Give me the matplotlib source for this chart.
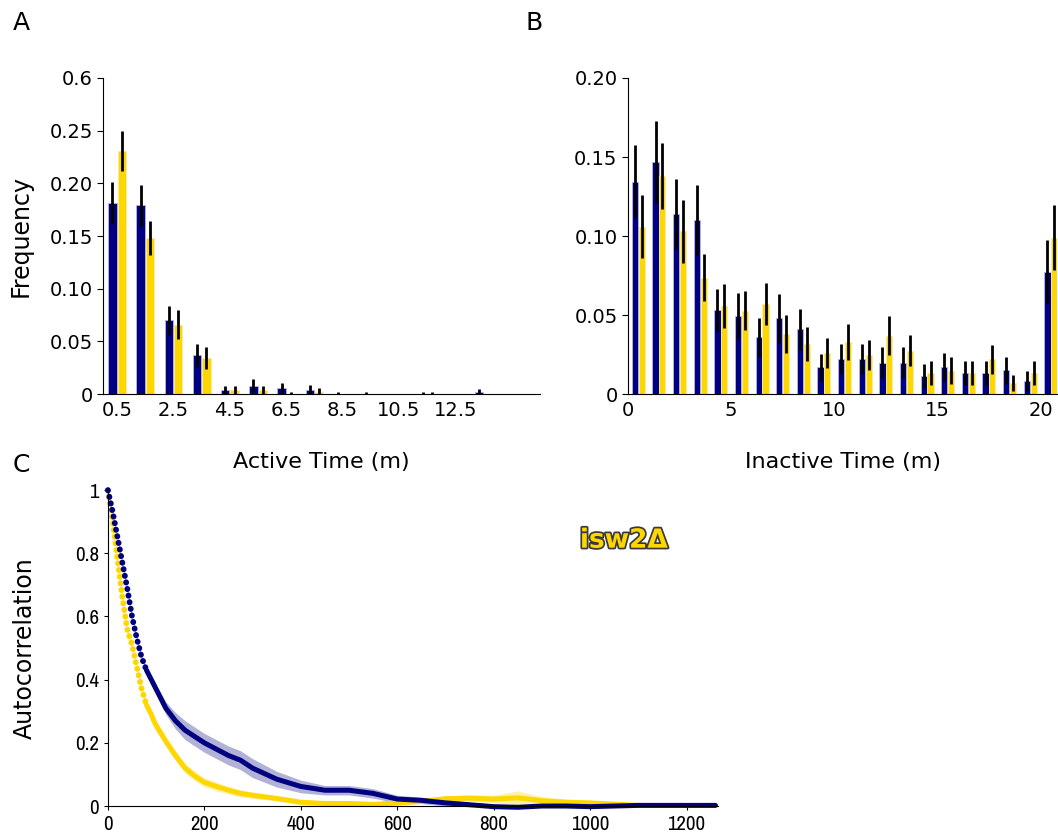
import numpy as np
import matplotlib
matplotlib.use('Agg')
import matplotlib.pyplot as plt
import matplotlib.patheffects as pe
from matplotlib import font_manager

plt.rcParams['font.family'] = 'DejaVu Sans'

NAVY = '#000080'
GOLD = '#FFD700'

# Panel A - active time histogram
a_bins = [0.5, 1.5, 2.5, 3.5, 4.5, 5.5, 6.5, 7.5, 8.5, 9.5, 10.5, 11.5, 12.5, 13.5]
a_blue = [0.181, 0.179, 0.070, 0.037, 0.004, 0.008, 0.006, 0.004, 0.0, 0.0, 0.0, 0.0, 0.0, 0.002]
a_blue_err = [0.020, 0.019, 0.014, 0.011, 0.004, 0.006, 0.005, 0.0045, 0.002, 0.002, 0.0, 0.002, 0.0, 0.003]
a_yellow = [0.231, 0.148, 0.066, 0.034, 0.004, 0.004, 0.0, 0.002, 0.0, 0.0, 0.0, 0.0, 0.0, 0.0]
a_yellow_err = [0.019, 0.016, 0.0135, 0.0105, 0.004, 0.004, 0.002, 0.004, 0.0, 0.0, 0.0, 0.002, 0.0, 0.0]
a_ticks = [0, 0.05, 0.10, 0.15, 0.20, 0.25, 0.30]
a_ticklabels = ['0', '0.05', '0.10', '0.15', '0.20', '0.25', '0.6']
a_xticks = [0.5, 2.5, 4.5, 6.5, 8.5, 10.5, 12.5]

# Panel B - inactive time histogram
b_bins = [i + 0.5 for i in range(21)]
b_blue = [0.1345, 0.1466, 0.1138, 0.110, 0.0532, 0.0496, 0.0359, 0.048, 0.041, 0.0169, 0.022,
          0.022, 0.020, 0.020, 0.0116, 0.017, 0.0135, 0.0135, 0.0152, 0.0082, 0.0775]
b_blue_err = [0.023, 0.026, 0.022, 0.022, 0.0135, 0.0145, 0.0125, 0.0155, 0.013, 0.0085, 0.0095,
              0.0095, 0.0095, 0.0095, 0.0075, 0.009, 0.0075, 0.0075, 0.0085, 0.0065, 0.020]
b_yellow = [0.106, 0.138, 0.103, 0.0737, 0.0558, 0.0528, 0.057, 0.038, 0.0317, 0.0258, 0.033,
            0.0247, 0.037, 0.0275, 0.0135, 0.0148, 0.0135, 0.022, 0.0068, 0.0135, 0.099]
b_yellow_err = [0.020, 0.021, 0.020, 0.015, 0.014, 0.0125, 0.0135, 0.012, 0.0105, 0.0095, 0.0115,
                0.0095, 0.0125, 0.010, 0.0075, 0.0085, 0.0075, 0.009, 0.005, 0.0075, 0.0205]

# Panel C - autocorrelation (lag, mean, ci half width)
c_t = [0, 5, 10, 15, 20, 25, 30, 35, 40, 45, 50, 55, 60, 65, 70, 75, 80, 85, 90, 95, 100,
       120, 140, 160, 180, 200, 225, 250, 275, 300, 350, 400, 450, 500, 550, 600, 650, 700,
       750, 800, 850, 900, 950, 1000, 1050, 1100, 1150, 1200, 1260]
c_blue = [1.0, 0.965, 0.93, 0.89, 0.85, 0.81, 0.77, 0.73, 0.69, 0.645, 0.60, 0.565, 0.53, 0.50,
          0.47, 0.45, 0.43, 0.415, 0.40, 0.385, 0.37,
          0.31, 0.27, 0.24, 0.22, 0.20, 0.18, 0.16, 0.145, 0.12, 0.085, 0.062, 0.05, 0.05, 0.04,
          0.022, 0.018, 0.01, 0.004, -0.002, -0.004, 0.0, 0.0, -0.002, 0.0, 0.002, 0.002, 0.002, 0.002]
c_blue_ci = [0.004, 0.004, 0.004, 0.004, 0.004, 0.004, 0.004, 0.004, 0.004, 0.004, 0.005, 0.005,
             0.005, 0.006, 0.007, 0.008, 0.009, 0.01, 0.011, 0.012, 0.014,
             0.02, 0.026, 0.03, 0.03, 0.03, 0.03, 0.03, 0.03, 0.03, 0.025, 0.02, 0.015, 0.015, 0.015,
             0.012, 0.01, 0.01, 0.008, 0.008, 0.008, 0.008, 0.008, 0.008, 0.008, 0.006, 0.006, 0.006, 0.006]
c_yellow = [1.0, 0.95, 0.90, 0.84, 0.78, 0.72, 0.66, 0.61, 0.56, 0.535, 0.51, 0.475, 0.44, 0.405,
            0.37, 0.345, 0.32, 0.305, 0.29, 0.27, 0.255,
            0.205, 0.16, 0.12, 0.095, 0.075, 0.062, 0.05, 0.04, 0.034, 0.024, 0.012, 0.008, 0.008,
            0.005, 0.01, 0.015, 0.023, 0.025, 0.022, 0.026, 0.017, 0.012, 0.01, 0.006, 0.002, 0.0, 0.0, 0.0]
c_yellow_ci = [0.004, 0.004, 0.004, 0.004, 0.004, 0.004, 0.004, 0.004, 0.005, 0.005, 0.006, 0.006,
               0.007, 0.008, 0.009, 0.01, 0.011, 0.012, 0.013, 0.014, 0.015,
               0.015, 0.015, 0.015, 0.015, 0.014, 0.013, 0.012, 0.011, 0.01,
               0.008, 0.008, 0.008, 0.008, 0.008, 0.008, 0.008, 0.01, 0.01, 0.012, 0.022, 0.012,
               0.01, 0.008, 0.006, 0.006, 0.006, 0.006, 0.006]

fig = plt.figure(figsize=(10.58, 8.35), dpi=100)

bw = 0.3
off = 0.165
err_kw = dict(ecolor='black', elinewidth=2, capsize=0)


def hist_panel(ax, bins, blue, blue_err, yellow, yellow_err):
    x = np.asarray(bins)
    ax.bar(x - off, blue, bw, yerr=blue_err, color=NAVY, edgecolor='#b8b8dc', linewidth=0.6,
           error_kw=err_kw)
    ax.bar(x + off, yellow, bw, yerr=yellow_err, color=GOLD, edgecolor='#f5ecb0', linewidth=0.6,
           error_kw=err_kw)
    for s in ['top', 'right']:
        ax.spines[s].set_visible(False)
    ax.tick_params(axis='both', labelsize=14)
    ax.tick_params(axis='x', length=0, pad=5)
    ax.tick_params(axis='y', length=4)


axA = fig.add_axes([0.0974, 0.528, 0.4130, 0.3786])
hist_panel(axA, a_bins, a_blue, a_blue_err, a_yellow, a_yellow_err)
axA.set_xlim(0, 15.5)
axA.set_ylim(0, 0.30)
axA.set_yticks(a_ticks)
axA.set_yticklabels(a_ticklabels)
axA.set_xticks(a_xticks)
axA.set_xticklabels([str(v) for v in a_xticks])
axA.set_ylabel('Frequency', fontsize=17, labelpad=12)
axA.set_xlabel('Active Time (m)', fontsize=16, labelpad=23)

axB = fig.add_axes([0.5936, 0.528, 0.4055, 0.3786])
hist_panel(axB, b_bins, b_blue, b_blue_err, b_yellow, b_yellow_err)
axB.set_xlim(0, 20.8)
axB.set_ylim(0, 0.20)
axB.set_yticks([0, 0.05, 0.10, 0.15, 0.20])
axB.set_yticklabels(['0', '0.05', '0.10', '0.15', '0.20'])
axB.set_xticks([0, 5, 10, 15, 20])
axB.set_xlabel('Inactive Time (m)', fontsize=16, labelpad=23)

axC = fig.add_axes([0.102, 0.0347, 0.5765, 0.3783])
t = np.asarray(c_t)
cb = np.asarray(c_blue)
cy = np.asarray(c_yellow)
cbe = np.asarray(c_blue_ci)
cye = np.asarray(c_yellow_ci)
axC.fill_between(t, cy - cye, cy + cye, color=GOLD, alpha=0.35, lw=0)
axC.fill_between(t, cb - cbe, cb + cbe, color=NAVY, alpha=0.3, lw=0)
k = c_t.index(80)
dots = dict(linestyle=(0, (0.05, 1.1)), dash_capstyle='round', lw=4.2, clip_on=False)
axC.plot(t[:k + 1], cy[:k + 1], color=GOLD, **dots)
axC.plot(t[k:], cy[k:], color=GOLD, lw=3.6, solid_capstyle='round')
axC.plot(t[:k + 1], cb[:k + 1], color=NAVY, **dots)
axC.plot(t[k:], cb[k:], color=NAVY, lw=3.6, solid_capstyle='round', clip_on=False)
axC.set_xlim(0, 1265)
axC.set_ylim(0, 1)
axC.set_xticks([0, 200, 400, 600, 800, 1000, 1200])
axC.set_yticks([0, 0.2, 0.4, 0.6, 0.8, 1])
axC.set_yticklabels(['0', '0.2', '0.4', '0.6', '0.8', '1'])
for s in ['top', 'right']:
    axC.spines[s].set_visible(False)
axC.tick_params(axis='both', labelsize=14, length=3)
narrow = [f.name for f in font_manager.fontManager.ttflist if 'Narrow' in f.name or 'Condensed' in f.name]
if narrow:
    for lab in axC.get_xticklabels() + axC.get_yticklabels():
        lab.set_family(narrow[0])
        lab.set_fontsize(15)
axC.set_ylabel('Autocorrelation', fontsize=17, labelpad=27)
axC.text(0.846, 0.84, 'isw2\u0394', transform=axC.transAxes, fontsize=19, fontweight='bold',
         color=GOLD, ha='center', va='center',
         path_effects=[pe.withStroke(linewidth=2.5, foreground='#3a3a3a')])

fig.text(0.012, 0.972, 'A', fontsize=18, va='center')
fig.text(0.497, 0.972, 'B', fontsize=18, va='center')
fig.text(0.012, 0.443, 'C', fontsize=18, va='center')

fig.savefig('out.png', dpi=100)
